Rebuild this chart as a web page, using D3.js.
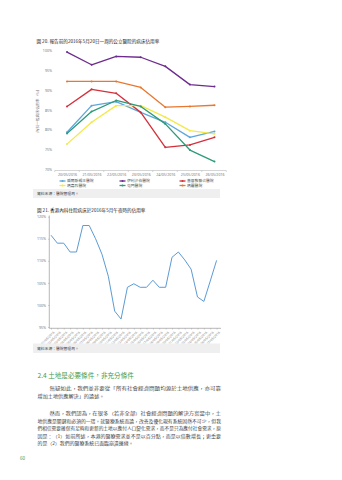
<!DOCTYPE html>
<html><head><meta charset="utf-8">
<script src="https://cdn.jsdelivr.net/npm/d3@7"></script>
<style>
html,body{margin:0;padding:0;background:#fff;}
svg{display:block;font-family:"Noto Sans CJK TC","Noto Sans",sans-serif;}
</style></head>
<body>
<svg id="c" width="342" height="480"></svg>
<script>
// ---------- Chart 1 data ----------
const dates1 = ["20/05/2016","21/05/2016","22/05/2016","23/05/2016","24/05/2016","25/05/2016","26/05/2016"];
const ticks1 = [70,75,80,85,90,95,100];
const names1 = ["威爾斯親王醫院","伊利沙伯醫院","基督教聯合醫院","瑪嘉烈醫院","屯門醫院","瑪麗醫院"];
const colors1 = ["#5ea7dc","#6e2b8e","#d3303b","#f3e94a","#2e9a78","#e8772f"];
const blueVals   = [79.4, 86.1, 87.1, 84.4, 81.9, 78.1, 79.6];
const purpleVals = [99.6, 96.4, 98.5, 98.3, 96.0, 91.4, 90.9];
const redVals    = [85.9, 90.2, 89.2, 84.4, 75.6, 76.2, 78.1];
const yellowVals = [76.4, 81.9, 86.1, 86.1, 83.2, 79.8, 79.0];
const greenVals  = [79.1, 84.6, 87.4, 85.9, 81.5, 74.9, 72.0];
const orangeVals = [92.2, 92.2, 92.2, 90.7, 85.7, 85.9, 86.2];
const series1 = [blueVals, purpleVals, redVals, yellowVals, greenVals, orangeVals];

// ---------- Chart 2 data ----------
const dates2 = ["01/05/2016","02/05/2016","03/05/2016","04/05/2016","05/05/2016","06/05/2016","07/05/2016","08/05/2016","09/05/2016","10/05/2016","11/05/2016","12/05/2016","13/05/2016","14/05/2016","15/05/2016","16/05/2016","17/05/2016","18/05/2016","19/05/2016","20/05/2016","21/05/2016","22/05/2016","23/05/2016","24/05/2016","25/05/2016","26/05/2016","27/05/2016"];
const occVals = [115.8,114.0,114.0,112.0,112.0,118.0,118.0,115.0,111.5,106.5,98.6,96.8,104.0,104.8,104.0,104.0,105.6,104.0,104.0,110.8,112.0,110.2,108.1,101.8,100.8,105.4,110.1];
const ticks2 = [95,100,105,110,115,120];

const svg = d3.select("#c");
const txt = "#333";

// ===== Chart 1 =====
svg.append("text").attr("x",36.5).attr("y",43).attr("font-size",4.6).attr("fill","#222")
  .text("圖 20. 報告前的2016年5月20日一周的公立醫院的病床佔用率");

const x1 = d3.scalePoint().domain(dates1).range([67, 214.5]);
const y1 = d3.scaleLinear().domain([70,100]).range([169.5, 50.5]);

const yAx1 = svg.append("g").attr("transform","translate(55,0)")
  .call(d3.axisLeft(y1).tickValues(ticks1).tickFormat(d=>d+"%").tickSize(0).tickPadding(3));
yAx1.select(".domain").remove();
yAx1.selectAll("text").attr("font-size",3.6).attr("fill","#777").attr("font-family","Noto Sans, sans-serif");

const xb1 = d3.scaleBand().domain(dates1).range([54.75, 226.25]);
const xAx1 = svg.append("g").attr("transform","translate(0,170.5)")
  .call(d3.axisBottom(x1).tickSize(0).tickPadding(2.5));
xAx1.select(".domain").remove();
xAx1.selectAll("text").attr("font-size",3.6).attr("fill","#777").attr("font-family","Noto Sans, sans-serif");
svg.append("line").attr("x1",54.75).attr("x2",226.25).attr("y1",170.5).attr("y2",170.5).attr("stroke","#aaa").attr("stroke-width",0.5);
svg.selectAll(".bt1").data(dates1.concat(["end"])).enter().append("line")
  .attr("x1",(d,i)=>i<dates1.length?xb1(d):226.25).attr("x2",(d,i)=>i<dates1.length?xb1(d):226.25)
  .attr("y1",170.5).attr("y2",172).attr("stroke","#aaa").attr("stroke-width",0.5);

svg.append("text").attr("transform","translate(39,110) rotate(-90)").attr("text-anchor","middle")
  .attr("font-size",3.8).attr("fill","#777").text("內科一般病床佔用率（%）");

const line1 = d3.line().x((d,i)=>x1(dates1[i])).y(d=>y1(d));
series1.forEach((s,k)=>{
  svg.append("path").datum(s).attr("d",line1).attr("fill","none")
    .attr("stroke",colors1[k]).attr("stroke-width",1.3).attr("stroke-linejoin","round");
  svg.selectAll(".pt"+k).data(s).enter().append("circle")
    .attr("cx",(d,i)=>x1(dates1[i])).attr("cy",d=>y1(d)).attr("r",1).attr("fill",colors1[k]);
});

// legend
const legX = [62.5, 122.5, 182.5], legY = [181, 185.5];
names1.forEach((n,k)=>{
  const lx = legX[k%3], ly = legY[Math.floor(k/3)];
  svg.append("line").attr("x1",lx-3).attr("x2",lx+3).attr("y1",ly).attr("y2",ly)
    .attr("stroke",colors1[k]).attr("stroke-width",1.3);
  svg.append("circle").attr("cx",lx).attr("cy",ly).attr("r",1).attr("fill",colors1[k]);
  svg.append("text").attr("x",lx+4.5).attr("y",ly+1.3).attr("font-size",3.8).attr("fill","#555").text(n);
});

svg.append("rect").attr("x",33).attr("y",189).attr("width",187).attr("height",9).attr("fill","#efefef");
svg.append("text").attr("x",37).attr("y",195.2).attr("font-size",3.8).attr("fill","#444").text("資料來源：醫院管理局。");

// ===== Chart 2 =====
svg.append("text").attr("x",37).attr("y",212).attr("font-size",4.6).attr("fill","#222")
  .text("圖 21. 香港內科住院病床於2016年5月午夜時的佔用率");

const x2 = d3.scalePoint().domain(dates2).range([51, 216.6]);
const y2 = d3.scaleLinear().domain([95,120]).range([327, 216.7]);

const yAx2 = svg.append("g").attr("transform","translate(49.3,0)")
  .call(d3.axisLeft(y2).tickValues(ticks2).tickFormat(d=>d+"%").tickSize(1.2).tickPadding(2));
yAx2.select(".domain").remove();
yAx2.selectAll("line").attr("stroke","#999").attr("stroke-width",0.5);
yAx2.selectAll("text").attr("font-size",3.6).attr("fill","#777").attr("font-family","Noto Sans, sans-serif");
svg.append("line").attr("x1",49.3).attr("x2",49.3).attr("y1",215.5).attr("y2",328.3).attr("stroke","#999").attr("stroke-width",0.7);
svg.append("line").attr("x1",49.3).attr("x2",221).attr("y1",328.3).attr("y2",328.3).attr("stroke","#999").attr("stroke-width",0.7);

const xAx2 = svg.append("g").attr("transform","translate(0,328.3)")
  .call(d3.axisBottom(x2).tickSize(1.2).tickPadding(1));
xAx2.select(".domain").remove();
xAx2.selectAll("line").attr("stroke","#999").attr("stroke-width",0.5);
xAx2.selectAll("text").attr("font-size",3.3).attr("fill","#888").attr("font-family","Noto Sans, sans-serif")
  .attr("text-anchor","end").attr("dy","0.3em").attr("transform","translate(1,2) rotate(-45)");

const line2 = d3.line().x((d,i)=>x2(dates2[i])).y(d=>y2(d));
svg.append("path").datum(occVals).attr("d",line2).attr("fill","none")
  .attr("stroke","#5b9bd5").attr("stroke-width",1).attr("stroke-linejoin","round");

svg.append("rect").attr("x",33).attr("y",343.5).attr("width",187).attr("height",9.5).attr("fill","#efefef");
svg.append("text").attr("x",37).attr("y",349.8).attr("font-size",3.8).attr("fill","#444").text("資料來源：醫院管理局。");

// ===== Section text =====
svg.append("text").attr("x",37.5).attr("y",378).attr("font-size",6.6).attr("fill","#3f9b4b")
  .text("2.4 土地是必要條件，非充分條件");

const paraLines = [
  {x:49.5, y:390, w:171.5, t:"無疑如此，我們並非要從「所有社會經濟問題均源於土地供應，亦可靠"},
  {x:37.5, y:397.6, w:67, t:"增加土地供應解決」的論述。"},
  {x:49.5, y:415, w:171.5, t:"然而，我們認為，在很多（若非全部）社會經濟問題的解決方案當中，土"},
  {x:37.5, y:422.6, w:183.5, t:"地供應是關鍵和必須的一環。就醫療系統而論，改善及優化現有系統固然不可少，但我"},
  {x:37.5, y:430.2, w:183.5, t:"們相信需要確保有足夠和更新的土地以應付人口變化需求，而不是只為應付社會需求，原"},
  {x:37.5, y:437.8, w:183.5, t:"因是：（1）如前所述，本港的醫療需求並不是以百分點，而是以倍數增長；更重要"},
  {x:37.5, y:445.4, w:96, t:"的是（2）我們的醫療系統已面臨崩潰邊緣。"}
];
svg.selectAll(".para").data(paraLines).enter().append("text")
  .attr("x",d=>d.x).attr("y",d=>d.y).attr("font-size",4.2).attr("fill","#444")
  .attr("textLength",d=>d.w).attr("lengthAdjust","spacingAndGlyphs").text(d=>d.t);

svg.append("text").attr("x",20).attr("y",460).attr("font-size",4.6).attr("fill","#3f9b4b").text("60");
</script>
</body></html>
